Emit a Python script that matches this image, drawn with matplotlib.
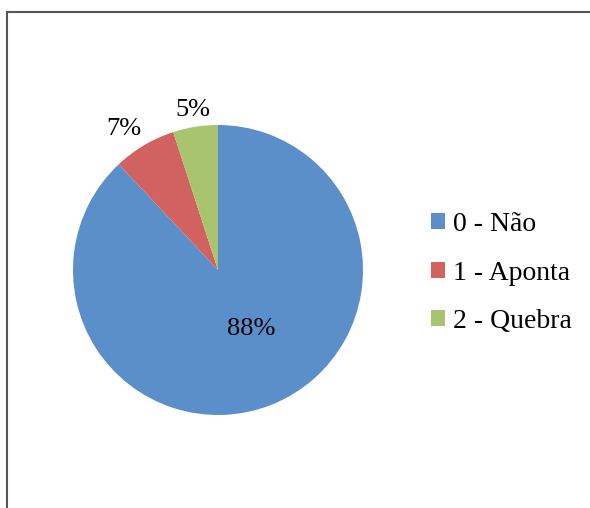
import numpy as np
import matplotlib.pyplot as plt
from matplotlib.patches import Rectangle

labels = ["0 - Não", "1 - Aponta", "2 - Quebra"]
values = [88, 7, 5]
colors = ["#5B8FC9", "#D1625F", "#A8C46E"]

plt.rcParams['font.family'] = ['Liberation Serif', 'DejaVu Serif']

fig = plt.figure(figsize=(5.9, 5.08), dpi=100)

# chart frame (left and top edges visible)
fig.add_artist(Rectangle((7 / 590, -0.05), 1.2, 1 - 12 / 508 + 0.05,
                         transform=fig.transFigure, fill=False,
                         edgecolor="#555555", linewidth=1.5))

ax = fig.add_axes([73 / 590, 1 - 415 / 508, 290 / 590, 290 / 508])
wedges, texts, autotexts = ax.pie(values, colors=colors, startangle=90,
                                  counterclock=False, autopct='%1.0f%%',
                                  wedgeprops=dict(linewidth=0),
                                  textprops=dict(fontsize=19, color='black'))

# put the small labels outside, big one inside
dists = [0.44, 1.17, 1.12]
shifts = [0, 3, 0]
for w, t, d, s in zip(wedges, autotexts, dists, shifts):
    ang = np.deg2rad((w.theta1 + w.theta2) / 2 + s)
    t.set_position((d * np.cos(ang) + (0.07 if d < 1 else 0), d * np.sin(ang)))
ax.set_aspect('equal')
ax.set_xlim(-1, 1)
ax.set_ylim(-1, 1)

leg = fig.legend(wedges, labels, loc='center left',
                 bbox_to_anchor=(406 / 590, 1 - 273 / 508), frameon=False,
                 fontsize=20, handlelength=0.5, handleheight=0.5,
                 handletextpad=0.3, labelspacing=0.85)

fig.savefig("out.png", dpi=100)
